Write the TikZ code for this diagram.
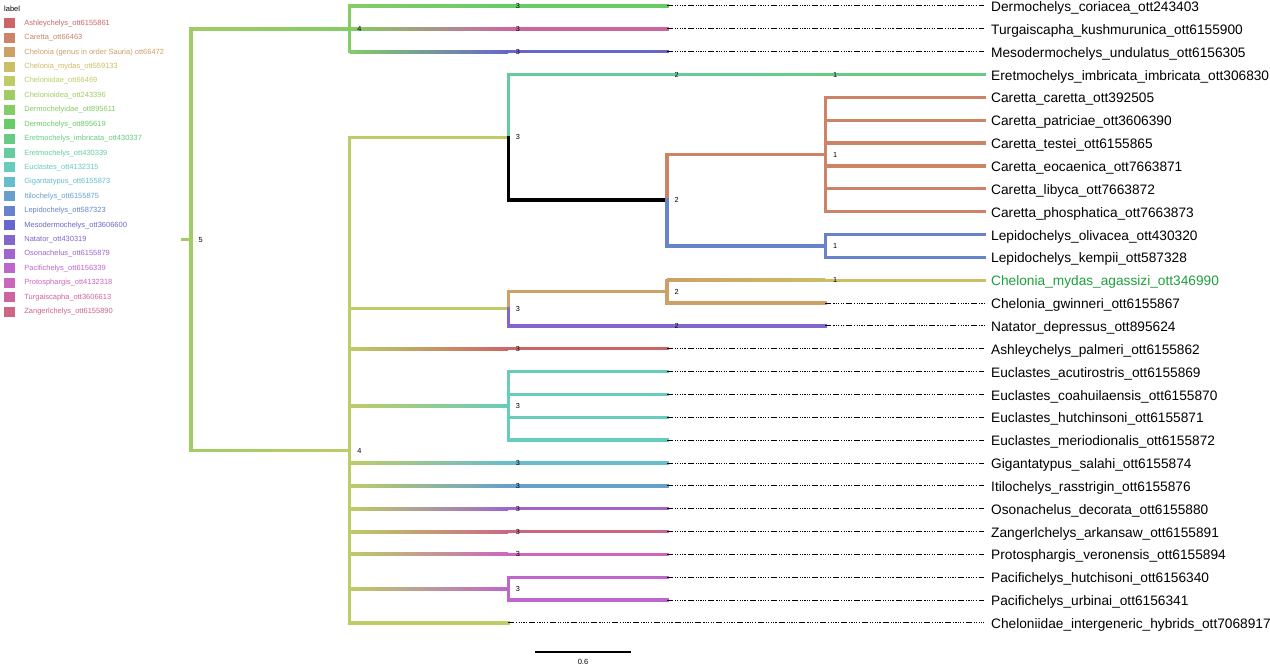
\documentclass[tikz,border=0pt]{standalone}
\usepackage{fontspec}
\setmainfont{Liberation Sans}
\usetikzlibrary{calc,positioning}
\definecolor{ashley}{HTML}{CC6666}
\definecolor{caretta}{HTML}{CC8366}
\definecolor{chelgen}{HTML}{CCA066}
\definecolor{chelmyd}{HTML}{CCBD66}
\definecolor{cheloniidae}{HTML}{BDCC66}
\definecolor{chelonioidea}{HTML}{A0CC66}
\definecolor{dermfam}{HTML}{83CC66}
\definecolor{dermgen}{HTML}{66CC66}
\definecolor{eretimb}{HTML}{66CC83}
\definecolor{eretgen}{HTML}{66CCA0}
\definecolor{euclastes}{HTML}{66CCBD}
\definecolor{giganta}{HTML}{66BDCC}
\definecolor{itilo}{HTML}{66A0CC}
\definecolor{lepido}{HTML}{6683CC}
\definecolor{mesoderm}{HTML}{6666CC}
\definecolor{natator}{HTML}{8366CC}
\definecolor{osona}{HTML}{A066CC}
\definecolor{pacif}{HTML}{BD66CC}
\definecolor{proto}{HTML}{CC66BD}
\definecolor{turgai}{HTML}{CC66A0}
\definecolor{zanger}{HTML}{CC6683}
\definecolor{agassgreen}{RGB}{30,160,60}
\tikzset{
  branch/.style={draw=#1,line width=3.4pt,line cap=rect},
  branch/.default=black,
  trail/.style={draw=black,line width=1pt,
    dash pattern=on 6pt off 2pt on 1.2pt off 1.2pt on 1.2pt off 1.2pt on 1.2pt off 1.2pt on 1.2pt off 1.2pt on 1.2pt off 2pt},
  tiplab/.style={anchor=west,inner sep=0pt,font=\fontsize{13.7}{16}\selectfont},
  rank/.style={inner sep=0pt,font=\fontsize{7.3}{8}\selectfont},
  swatch/.style={fill=#1,minimum width=11pt,minimum height=10pt,inner sep=0pt},
  keytext/.style={anchor=west,inner sep=0pt,font=\fontsize{7.5}{9}\selectfont,text=#1},
}
% horizontal branch shaded from parent colour to child colour
\newcommand{\gradedge}[4]{\shade[left color=#1,right color=#2] ($(#3)+(0,-1.45)$) rectangle ($(#4)+(0,1.45)$);}

\begin{document}
\begin{tikzpicture}[x=1pt,y=-1pt]
    \path[use as bounding box,fill=white] (0,0) rectangle (1270,666);
    % tips and their labels
    \foreach \lab [count=\i] in {Dermochelys\_coriacea\_ott243403,Turgaiscapha\_kushmurunica\_ott6155900,
      Mesodermochelys\_undulatus\_ott6156305,Eretmochelys\_imbricata\_imbricata\_ott306830,
      Caretta\_caretta\_ott392505,Caretta\_patriciae\_ott3606390,Caretta\_testei\_ott6155865,
      Caretta\_eocaenica\_ott7663871,Caretta\_libyca\_ott7663872,Caretta\_phosphatica\_ott7663873,
      Lepidochelys\_olivacea\_ott430320,Lepidochelys\_kempii\_ott587328,
      {\textcolor{agassgreen}{Chelonia\_mydas\_agassizi\_ott346990}},Chelonia\_gwinneri\_ott6155867,
      Natator\_depressus\_ott895624,Ashleychelys\_palmeri\_ott6155862,
      Euclastes\_acutirostris\_ott6155869,Euclastes\_coahuilaensis\_ott6155870,
      Euclastes\_hutchinsoni\_ott6155871,Euclastes\_meriodionalis\_ott6155872,
      Gigantatypus\_salahi\_ott6155874,Itilochelys\_rasstrigin\_ott6155876,
      Osonachelus\_decorata\_ott6155880,Zangerlchelys\_arkansaw\_ott6155891,
      Protosphargis\_veronensis\_ott6155894,Pacifichelys\_hutchisoni\_ott6156340,
      Pacifichelys\_urbinai\_ott6156341,Cheloniidae\_intergeneric\_hybrids\_ott7068917}{
      \coordinate (end\i) at (984,{6+(\i-1)*22.85});
      \node[tiplab] (tip\i) at ($(end\i)+(7,2)$) {\lab};
    }
    % rank columns
    \coordinate (k4) at (349.6,0);
    \coordinate (k3) at (508.2,0);
    \coordinate (k2) at (666.8,0);
    \coordinate (k1) at (825.4,0);
    % internal nodes
    \coordinate (root) at (191,239.7);
    \coordinate (rootstub) at (183,239.7);
    \coordinate (dfam) at (end2 -| k4);
    \coordinate (dgen) at (end1 -| k3);
    \coordinate (tgen) at (end2 -| k3);
    \coordinate (mgen) at (end3 -| k3);
    \coordinate (cfam) at (349.6,450.5);
    \coordinate (eclade) at (508.2,137.4);
    \coordinate (eret2) at (end4 -| k2);
    \coordinate (eret1) at (end4 -| k1);
    \coordinate (cpair) at (666.8,200.2);
    \coordinate (caret) at (825.4,154.5);
    \coordinate (lepi) at (825.4,245.9);
    \coordinate (chel3) at (508.2,308.75);
    \coordinate (chel2) at (666.8,291.6);
    \coordinate (chel1) at (end13 -| k1);
    \coordinate (gwin) at (end14 -| k1);
    \coordinate (nat2) at (end15 -| k2);
    \coordinate (nattip) at (end15 -| k1);
    \coordinate (ash3) at (end16 -| k3);
    \coordinate (euc3) at (508.2,405.9);
    \coordinate (gig3) at (end21 -| k3);
    \coordinate (iti3) at (end22 -| k3);
    \coordinate (oso3) at (end23 -| k3);
    \coordinate (zan3) at (end24 -| k3);
    \coordinate (pro3) at (end25 -| k3);
    \coordinate (pac3) at (508.2,588.7);
    \coordinate (hyb) at (end28 -| k3);
    % root
    \draw[branch=chelonioidea] (rootstub) -- (root);
    \draw[branch=chelonioidea] (root |- dfam) -- (root |- cfam);
    \gradedge{chelonioidea}{dermfam}{root |- dfam}{dfam}
    \gradedge{chelonioidea}{cheloniidae}{root |- cfam}{cfam}
    % Dermochelyidae
    \draw[branch=dermfam] (dfam |- dgen) -- (dfam |- mgen);
    \foreach \g/\col in {dgen/dermgen,tgen/turgai,mgen/mesoderm}{
      \gradedge{dermfam}{\col}{dfam |- \g}{\g}
      \draw[branch=\col] (\g) -- (\g -| k2);
    }
    % Cheloniidae
    \draw[branch=cheloniidae] (cfam |- eclade) -- (cfam |- hyb);
    \draw[branch=cheloniidae] (cfam |- eclade) -- (eclade);
    \draw[branch=eretgen] (eclade) |- (eret2);
    \gradedge{eretgen}{eretimb}{eret2}{eret1}
    \draw[branch=eretimb] (eret1) -- (end4);
    \draw[branch] (eclade) |- (cpair);
    \draw[branch=caretta] (cpair) |- (caret);
    \foreach \i in {5,...,10} \draw[branch=caretta] (caret) |- (end\i);
    \draw[branch=lepido] (cpair) |- (lepi);
    \foreach \i in {11,12} \draw[branch=lepido] (lepi) |- (end\i);
    \draw[branch=cheloniidae] (cfam |- chel3) -- (chel3);
    \draw[branch=chelgen] (chel3) |- (chel2);
    \draw[branch=chelgen] (chel2) -- (chel2 |- chel1);
    \gradedge{chelgen}{chelmyd}{chel2 |- chel1}{chel1}
    \draw[branch=chelmyd] (chel1) -- (end13);
    \draw[branch=chelgen] (chel2) |- (gwin);
    \draw[branch=natator] (chel3) |- (nattip);
    \foreach \g/\col in {ash3/ashley,gig3/giganta,iti3/itilo,oso3/osona,zan3/zanger,pro3/proto}{
      \gradedge{cheloniidae}{\col}{cfam |- \g}{\g}
      \draw[branch=\col] (\g) -- (\g -| k2);
    }
    \gradedge{cheloniidae}{euclastes}{cfam |- euc3}{euc3}
    \foreach \i in {17,...,20} \draw[branch=euclastes] (euc3) |- (end\i -| k2);
    \gradedge{cheloniidae}{pacif}{cfam |- pac3}{pac3}
    \foreach \i in {26,27} \draw[branch=pacif] (pac3) |- (end\i -| k2);
    \draw[branch=cheloniidae] (cfam |- hyb) -- (hyb);
    % dotted leaders to the labels
    \foreach \i in {1,2,3,16,17,...,27} \draw[trail] (end\i -| k2) -- (end\i);
    \draw[trail] (gwin) -- (end14);
    \draw[trail] (nattip) -- (end15);
    \draw[trail] (hyb) -- (end28);
    % node ranks
    \foreach \c/\r in {root/5,dfam/4,dgen/3,tgen/3,mgen/3,cfam/4,eclade/3,eret2/2,eret1/1,
      cpair/2,caret/1,lepi/1,chel3/3,chel2/2,chel1/1,nat2/2,ash3/3,euc3/3,gig3/3,iti3/3,
      oso3/3,zan3/3,pro3/3,pac3/3}
      \node[rank,right=7.5pt of \c] (r-\c) {\r};
    % legend
    \node[anchor=west,inner sep=0pt,font=\fontsize{7.5}{9}\selectfont] (legtitle) at (4,8.5) {label};
    \foreach \name/\col [count=\i] in {Ashleychelys\_ott6155861/ashley,Caretta\_ott66463/caretta,
      Chelonia (genus in order Sauria) ott66472/chelgen,Chelonia\_mydas\_ott559133/chelmyd,
      Cheloniidae\_ott66469/cheloniidae,Chelonioidea\_ott243396/chelonioidea,
      Dermochelyidae\_ott895611/dermfam,Dermochelys\_ott895619/dermgen,
      Eretmochelys\_imbricata\_ott430337/eretimb,Eretmochelys\_ott430339/eretgen,
      Euclastes\_ott4132315/euclastes,Gigantatypus\_ott6155873/giganta,
      Itilochelys\_ott6155875/itilo,Lepidochelys\_ott587323/lepido,
      Mesodermochelys\_ott3606600/mesoderm,Natator\_ott430319/natator,
      Osonachelus\_ott6155879/osona,Pacifichelys\_ott6156339/pacif,
      Protosphargis\_ott4132318/proto,Turgaiscapha\_ott3606613/turgai,
      Zangerlchelys\_ott6155890/zanger}{
      \node[swatch=\col] (sw\i) at (9.5,{23.3+(\i-1)*14.42}) {};
      \node[keytext=\col,right=9pt of sw\i] (kt\i) {\name};
    }
    % scale bar
    \coordinate (sb1) at (535,652);
    \coordinate (sb2) at (631,652);
    \draw[line width=1.1pt] (sb1) -- (sb2);
    \node[inner sep=0pt,font=\fontsize{7.5}{9}\selectfont] (sblab) at (583,661.5) {0.6};
\end{tikzpicture}
\end{document}
